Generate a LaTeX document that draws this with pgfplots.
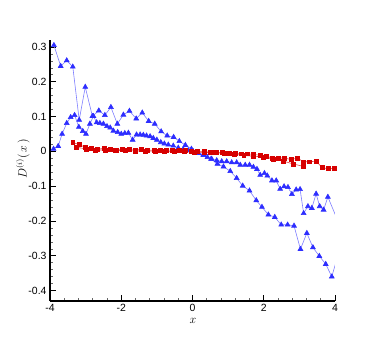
\documentclass[border=0pt]{standalone}
\usepackage{fontspec}
\setmainfont{Liberation Sans}
\usepackage{pgfplots}
\pgfplotsset{compat=1.18}

\definecolor{triblue}{RGB}{45,45,255}
\definecolor{lineblue}{RGB}{125,125,255}
\definecolor{sqred}{RGB}{215,0,0}
\definecolor{linered}{RGB}{225,70,70}

\begin{document}
\begin{tikzpicture}
\path[use as bounding box] (0,0) rectangle (382bp,339bp);
\begin{axis}[
    at={(50bp,38bp)}, anchor=south west,
    scale only axis, width=285bp, height=261bp,
    xmin=-4, xmax=4, ymin=-0.43, ymax=0.32,
    axis x line*=bottom, axis y line*=left,
    axis line style={-, line width=1.2pt},
    tick align=inside,
    major tick length=6bp, minor tick length=3bp,
    every tick/.style={black, line width=0.8pt},
    every minor tick/.style={black!60, line width=0.6pt},
    xtick={-4,-2,0,2,4},
    xticklabels={-4,-2,0,2,4},
    ytick={-0.4,-0.3,-0.2,-0.1,0,0.1,0.2,0.3},
    yticklabels={-0.4,-0.3,-0.2,-0.1,0,0.1,0.2,0.3},
    minor x tick num=4, minor y tick num=4,
    tick label style={font=\fontsize{10.5}{12}\selectfont},
    xlabel={$x$},
    ylabel={$D^{(i)}(\,x\,)$},
    label style={font=\fontsize{12}{13}\selectfont},
    xlabel style={at={(axis description cs:0.502,-0.077)}, anchor=center},
    ylabel style={at={(axis description cs:-0.095,0.544)}, anchor=center},
]
% blue, coarse
\addplot[lineblue, line width=0.6pt, mark=triangle*, mark size=2.8pt,
    mark options={triblue, fill=triblue}] coordinates {
(-3.89,0.305)(-3.70,0.245)(-3.53,0.261)(-3.36,0.243)(-3.18,0.090)(-3.01,0.185)
(-2.81,0.101)(-2.63,0.117)(-2.46,0.104)(-2.29,0.127)(-2.11,0.079)(-1.94,0.105)
(-1.77,0.116)(-1.58,0.094)(-1.41,0.111)(-1.23,0.087)(-1.06,0.079)(-0.88,0.057)
(-0.71,0.045)(-0.53,0.041)(-0.37,0.029)(-0.20,0.018)(-0.03,0.007)(0.14,-0.003)
(0.32,-0.011)(0.52,-0.022)(0.70,-0.036)(0.87,-0.044)(1.06,-0.057)(1.24,-0.077)
(1.41,-0.099)(1.60,-0.113)(1.79,-0.141)(1.95,-0.160)(2.13,-0.182)(2.31,-0.189)
(2.49,-0.211)(2.67,-0.211)(2.85,-0.214)(3.03,-0.281)(3.21,-0.235)(3.38,-0.276)
(3.56,-0.301)(3.74,-0.324)(3.91,-0.360)(4.02,-0.321)
};
% blue, fine
\addplot[lineblue, line width=0.6pt, mark=triangle*, mark size=2.8pt,
    mark options={triblue, fill=triblue}] coordinates {
(-3.90,0.007)(-3.77,0.015)(-3.66,0.050)(-3.53,0.081)(-3.42,0.098)(-3.31,0.104)
(-3.19,0.070)(-3.08,0.058)(-2.99,0.050)(-2.88,0.079)(-2.78,0.101)(-2.69,0.083)
(-2.60,0.081)(-2.50,0.079)(-2.40,0.072)(-2.31,0.068)(-2.22,0.059)(-2.10,0.055)
(-2.00,0.050)(-1.90,0.052)(-1.80,0.053)(-1.68,0.033)(-1.57,0.048)(-1.47,0.048)
(-1.38,0.047)(-1.29,0.045)(-1.19,0.043)(-1.10,0.038)(-1.00,0.033)(-0.89,0.026)
(-0.79,0.022)(-0.68,0.019)(-0.54,0.016)(-0.40,0.010)(-0.26,0.006)(-0.12,0.003)
(0.02,0.000)(0.16,-0.005)(0.30,-0.010)(0.42,-0.017)(0.54,-0.022)(0.68,-0.026)
(0.82,-0.029)(0.96,-0.029)(1.10,-0.032)(1.24,-0.032)(1.34,-0.039)(1.48,-0.039)
(1.60,-0.039)(1.71,-0.045)(1.81,-0.051)(1.90,-0.068)(2.02,-0.063)(2.10,-0.070)
(2.23,-0.084)(2.35,-0.084)(2.46,-0.108)(2.57,-0.101)(2.68,-0.103)(2.79,-0.123)
(2.91,-0.110)(3.02,-0.109)(3.12,-0.178)(3.24,-0.158)(3.35,-0.163)(3.47,-0.122)
(3.57,-0.158)(3.68,-0.168)(3.80,-0.131)(4.02,-0.185)
};
% red, main
\addplot[linered, line width=0.6pt, mark=square*, mark size=2pt,
    mark options={sqred, fill=sqred}] coordinates {
(-3.36,0.026)(-3.18,0.019)(-3.01,0.012)(-2.83,0.009)(-2.66,0.006)(-2.48,0.009)
(-2.31,0.006)(-2.13,0.004)(-1.96,0.006)(-1.78,0.005)(-1.61,0.004)(-1.43,0.005)
(-1.26,0.003)(-1.08,0.004)(-0.91,0.003)(-0.73,0.004)(-0.56,0.003)(-0.38,0.002)
(-0.21,0.002)(-0.03,0.000)(0.14,-0.001)(0.32,-0.001)(0.49,-0.002)(0.67,-0.002)
(0.84,-0.004)(1.02,-0.006)(1.19,-0.006)(1.37,-0.007)(1.54,-0.007)(1.72,-0.009)
(1.89,-0.011)(2.07,-0.014)(2.24,-0.019)(2.42,-0.019)(2.59,-0.019)(2.77,-0.024)
(2.94,-0.019)(3.12,-0.030)(3.29,-0.030)(3.47,-0.028)(3.64,-0.047)(3.82,-0.050)
(3.99,-0.048)
};
% red, second
\addplot[linered, line width=0.6pt, mark=square*, mark size=2pt,
    mark options={sqred, fill=sqred}] coordinates {
(-3.27,0.012)(-2.99,0.007)(-2.72,0.004)(-2.44,0.004)(-2.16,0.003)(-1.89,0.002)
(-1.61,0.001)(-1.33,0.001)(-1.05,0.001)(-0.78,0.000)(-0.50,0.000)(-0.22,-0.001)
(0.05,-0.002)(0.33,-0.003)(0.61,-0.004)(0.89,-0.006)(1.16,-0.008)(1.44,-0.012)
(1.72,-0.014)(1.99,-0.016)(2.27,-0.022)(2.55,-0.028)(2.82,-0.036)(3.10,-0.043)
};
\end{axis}
\end{tikzpicture}
\end{document}
